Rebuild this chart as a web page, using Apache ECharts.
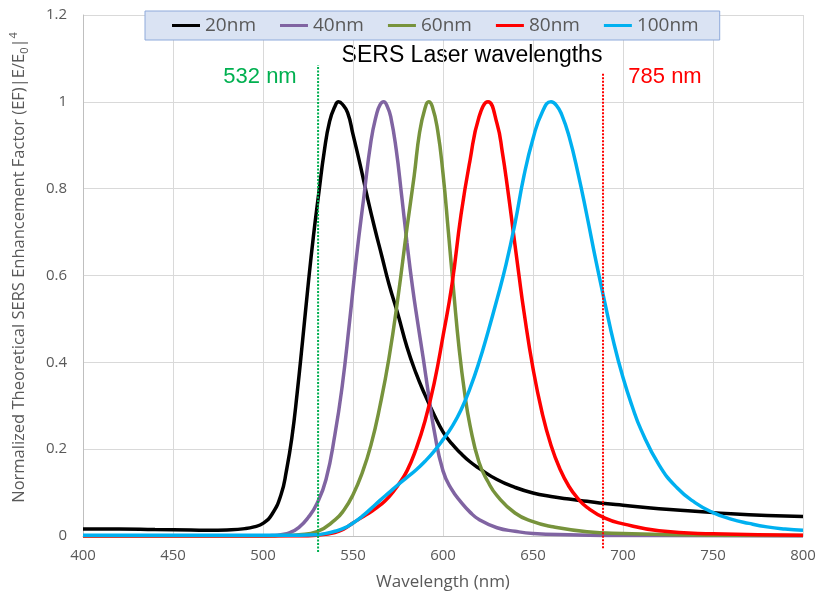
<!DOCTYPE html>
<html>
<head>
<meta charset="utf-8">
<script src="https://cdn.jsdelivr.net/npm/echarts@6/dist/echarts.min.js"></script>
<style>
  html, body { margin: 0; padding: 0; background: #fff; }
  #chart { width: 819px; height: 595px; }
</style>
</head>
<body>
<div id="chart"></div>
<script>
// wavelength (nm) and normalized EF for each particle size
const wl20 = [400, 420, 440, 460, 470, 480, 490, 495, 500, 505, 510, 513, 516, 519, 522, 525, 528, 531, 534, 537, 540, 542, 544, 547, 550,
  554, 558, 562, 566, 570, 575, 580, 585, 590, 595, 600, 605, 610, 615, 620, 630, 640, 650, 660, 670, 680, 690, 700, 720, 740, 760, 780, 800]
const ef20 = [0.016, 0.016, 0.015, 0.014, 0.013, 0.014, 0.017, 0.021, 0.029, 0.05, 0.095, 0.15, 0.225, 0.33, 0.45, 0.575, 0.69, 0.79, 0.885, 0.955, 0.99, 1.0, 0.995, 0.975, 0.925,
  0.855, 0.78, 0.71, 0.645, 0.58, 0.51, 0.435, 0.375, 0.325, 0.28, 0.24, 0.212, 0.19, 0.171, 0.156, 0.13, 0.112, 0.099, 0.091, 0.085, 0.08, 0.075, 0.071, 0.063, 0.057, 0.051, 0.047, 0.045]

const wl40 = [400, 500, 505, 510, 515, 520, 525, 530, 535, 540, 544, 548, 552, 556, 560, 563, 565, 567, 569, 571, 574, 577, 580, 583,
  586, 589, 592, 595, 600, 605, 610, 615, 620, 630, 640, 650, 670, 700, 800]
const ef40 = [0, 0, 0.001, 0.003, 0.008, 0.02, 0.042, 0.075, 0.13, 0.235, 0.345, 0.49, 0.645, 0.78, 0.91, 0.97, 0.993, 1.0, 0.99, 0.965, 0.89, 0.785, 0.675, 0.575,
  0.49, 0.41, 0.325, 0.245, 0.15, 0.106, 0.078, 0.055, 0.038, 0.019, 0.011, 0.006, 0.003, 0.001, 0]

const wl60 = [400, 505, 510, 520, 530, 540, 545, 550, 555, 560, 565, 570, 575, 580, 584, 587, 590, 592, 594, 597, 600, 603, 606, 609,
  612, 615, 620, 625, 630, 640, 650, 660, 680, 700, 750, 800]
const ef60 = [0, 0, 0.001, 0.003, 0.01, 0.037, 0.06, 0.095, 0.144, 0.21, 0.3, 0.41, 0.55, 0.71, 0.83, 0.93, 0.985, 1.0, 0.99, 0.935, 0.835, 0.7, 0.56, 0.43,
  0.33, 0.255, 0.17, 0.125, 0.093, 0.053, 0.033, 0.022, 0.01, 0.006, 0.002, 0.001]

const wl80 = [400, 520, 530, 540, 545, 550, 555, 560, 565, 570, 575, 580, 585, 590, 595, 600, 605, 610, 615, 620, 625, 630, 633, 636,
  639, 642, 645, 650, 655, 660, 665, 670, 675, 680, 690, 700, 720, 750, 800]
const ef80 = [0, 0, 0.002, 0.008, 0.016, 0.03, 0.043, 0.056, 0.071, 0.09, 0.117, 0.15, 0.2, 0.265, 0.35, 0.46, 0.58, 0.74, 0.865, 0.965, 1.0, 0.95, 0.883, 0.797,
  0.702, 0.607, 0.516, 0.386, 0.285, 0.209, 0.154, 0.114, 0.086, 0.066, 0.041, 0.028, 0.012, 0.005, 0.002]

const wl100 = [400, 520, 530, 535, 540, 545, 550, 555, 560, 565, 570, 575, 580, 585, 590, 595, 600, 605, 610, 615, 620, 625, 630, 635,
  640, 645, 650, 655, 660, 663, 666, 670, 675, 680, 685, 690, 695, 700, 705, 710, 720, 730, 740, 750, 760, 770, 780, 790, 800]
const ef100 = [0.002, 0.002, 0.003, 0.006, 0.011, 0.018, 0.03, 0.045, 0.063, 0.082, 0.1, 0.118, 0.135, 0.152, 0.172, 0.195, 0.222, 0.252, 0.29, 0.34, 0.4, 0.47, 0.545, 0.625,
  0.72, 0.83, 0.915, 0.975, 1.0, 0.992, 0.97, 0.921, 0.836, 0.737, 0.633, 0.536, 0.443, 0.365, 0.3, 0.245, 0.164, 0.111, 0.077, 0.054, 0.039, 0.029, 0.021, 0.016, 0.013]

const seriesNames = ['20nm', '40nm', '60nm', '80nm', '100nm']
const seriesX = [wl20, wl40, wl60, wl80, wl100]
const seriesY = [ef20, ef40, ef60, ef80, ef100]
const seriesColors = ['#000000', '#8064a2', '#77933c', '#ff0000', '#00b0f0']

// laser marker lines (positions as drawn in the picture)
const laserNames = ['532 nm', '785 nm']
const laserX = [530.6, 688.9]
const laserTop = [1.085, 1.066]
const laserBottom = [-0.037, -0.028]
const laserColors = ['#00b050', '#ff0000']

const chart = echarts.init(document.getElementById('chart'), null, { renderer: 'canvas' })

const curveSeries = seriesNames.map((name, i) => ({
  name: name,
  type: 'line',
  data: seriesX[i].map((w, j) => [w, seriesY[i][j]]),
  smooth: 0.5,
  showSymbol: false,
  lineStyle: { color: seriesColors[i], width: 3.5 },
  itemStyle: { color: seriesColors[i] },
  z: 2 + i
}))

const laserSeries = laserNames.map((name, i) => ({
  name: name,
  type: 'line',
  data: [[laserX[i], laserBottom[i]], [laserX[i], laserTop[i]]],
  showSymbol: false,
  clip: false,
  silent: true,
  lineStyle: { color: laserColors[i], width: 2, type: [2, 1.5] },
  z: 10
}))

const option = {
  animation: false,
  backgroundColor: '#fff',
  grid: { left: 83, right: 16, top: 15, bottom: 59, outerBoundsMode: 'none', containLabel: false },
  legend: {
    data: seriesNames,
    left: 145,
    top: 11,
    icon: 'rect',
    itemWidth: 28,
    itemHeight: 3,
    itemGap: 24,
    padding: [5, 21, 5, 27],
    backgroundColor: '#dae3f3',
    borderColor: '#8eaadb',
    borderWidth: 1,
    textStyle: { color: '#595959', fontSize: 19, fontFamily: 'Open Sans' }
  },
  xAxis: {
    type: 'value',
    min: 400,
    max: 800,
    interval: 50,
    name: 'Wavelength (nm)',
    nameLocation: 'middle',
    nameGap: 38,
    nameTextStyle: { color: '#595959', fontSize: 17, fontFamily: 'Open Sans' },
    axisLine: { show: true, lineStyle: { color: '#bfbfbf' } },
    axisTick: { show: false },
    axisLabel: { color: '#595959', fontSize: 15, fontFamily: 'Open Sans', margin: 12 },
    splitLine: { show: true, lineStyle: { color: '#d9d9d9' } }
  },
  yAxis: {
    type: 'value',
    min: 0,
    max: 1.2,
    interval: 0.2,
    name: '{a|Normalized Theoretical SERS Enhancement Factor (EF)|E/E}{sub|0}{a||}{sup|4}',
    nameLocation: 'middle',
    nameRotate: 90,
    nameGap: 53,
    nameTextStyle: {
      color: '#595959',
      fontFamily: 'Open Sans',
      padding: [0, 0, 0, 16],
      rich: {
        a: { fontSize: 16.5, lineHeight: 22, color: '#595959', fontFamily: 'Open Sans' },
        sub: { fontSize: 11, lineHeight: 11, verticalAlign: 'bottom', color: '#595959', fontFamily: 'Open Sans' },
        sup: { fontSize: 11, lineHeight: 11, verticalAlign: 'top', color: '#595959', fontFamily: 'Open Sans' }
      }
    },
    axisLine: { show: true, lineStyle: { color: '#bfbfbf' } },
    axisTick: { show: false },
    axisLabel: { color: '#595959', fontSize: 15, fontFamily: 'Open Sans', margin: 16 },
    splitLine: { show: true, lineStyle: { color: '#d9d9d9' } }
  },
  graphic: [
    {
      type: 'text', x: 472, y: 56,
      style: { text: 'SERS Laser wavelengths', fill: '#000', font: '23px "Liberation Sans"', textAlign: 'center', textVerticalAlign: 'middle' }
    },
    {
      type: 'text', x: 260, y: 77,
      style: { text: laserNames[0], fill: laserColors[0], font: '22px "Liberation Sans"', textAlign: 'center', textVerticalAlign: 'middle' }
    },
    {
      type: 'text', x: 665, y: 77,
      style: { text: laserNames[1], fill: laserColors[1], font: '22px "Liberation Sans"', textAlign: 'center', textVerticalAlign: 'middle' }
    }
  ],
  series: curveSeries.concat(laserSeries)
}

chart.setOption(option)
</script>
</body>
</html>
